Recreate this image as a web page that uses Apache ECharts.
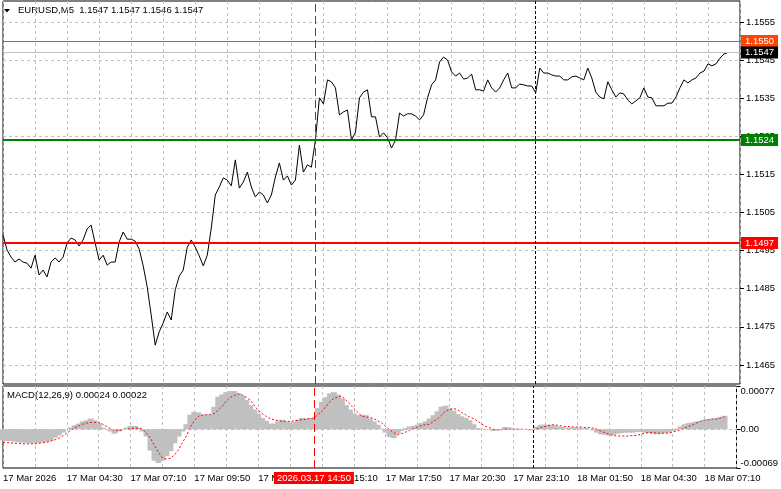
<!DOCTYPE html>
<html><head><meta charset="utf-8">
<script src="https://cdn.jsdelivr.net/npm/echarts@6/dist/echarts.min.js"></script>
<style>html,body{margin:0;padding:0;background:#fff}#c{width:781px;height:489px}</style>
</head><body><div id="c"></div>
<script>
// ---- data ----
const tickLabels = ['17 Mar 2026','17 Mar 04:30','17 Mar 07:10','17 Mar 09:50','17 Mar 12:30','17 Mar 15:10',
  '17 Mar 17:50','17 Mar 20:30','17 Mar 23:10','18 Mar 01:50','18 Mar 04:30','18 Mar 07:10'];
const priceTicks = [1.1465,1.1475,1.1485,1.1495,1.1505,1.1515,1.1525,1.1535,1.1545,1.1555];
const macdTicks = [-0.00069, 0, 0.00077];
const levelValues = [1.1550, 1.1547, 1.1524, 1.1497];
const crossTime = '2026.03.17 14:50';
const daySep = '2026.03.18 00:00';
const titleText = 'EURUSD,M5  1.1547 1.1547 1.1546 1.1547';
const macdText = 'MACD(12,26,9) 0.00024 0.00022';

const price = [
1.14991,1.14952,1.14933,1.14920,1.14928,1.14920,1.14917,1.14904,1.14938,1.14886,
1.14899,1.14881,1.14920,1.14931,1.14920,1.14933,1.14970,1.14983,1.14978,1.14962,
1.14978,1.15007,1.15017,1.14970,1.14925,1.14938,1.14912,1.14920,1.14920,1.14973,
1.14999,1.14980,1.14980,1.14975,1.14954,1.14910,1.14855,1.14781,1.14702,1.14737,
1.14760,1.14789,1.14768,1.14847,1.14883,1.14899,1.14959,1.14978,1.14959,1.14936,
1.14910,1.14938,1.15009,1.15096,1.15117,1.15141,1.15135,1.15120,1.15188,1.15114,
1.15130,1.15156,1.15117,1.15091,1.15104,1.15096,1.15075,1.15096,1.15143,1.15180,
1.15135,1.15146,1.15122,1.15135,1.15227,1.15156,1.15175,1.15169,1.15240,1.15351,
1.15335,1.15398,1.15393,1.15377,1.15306,1.15314,1.15319,1.15240,1.15261,1.15351,
1.15366,1.15372,1.15301,1.15301,1.15248,1.15259,1.15246,1.15219,1.15240,1.15311,
1.15303,1.15309,1.15309,1.15303,1.15293,1.15306,1.15351,1.15385,1.15398,1.15445,
1.15458,1.15450,1.15419,1.15408,1.15416,1.15400,1.15403,1.15413,1.15372,1.15372,
1.15369,1.15398,1.15377,1.15366,1.15377,1.15398,1.15416,1.15377,1.15377,1.15387,
1.15385,1.15382,1.15382,1.15364,1.15429,1.15416,1.15416,1.15411,1.15408,1.15408,
1.15398,1.15398,1.15406,1.15408,1.15403,1.15398,1.15429,1.15403,1.15366,1.15353,
1.15348,1.15393,1.15372,1.15353,1.15364,1.15361,1.15345,1.15335,1.15343,1.15351,
1.15377,1.15353,1.15351,1.15330,1.15330,1.15330,1.15337,1.15337,1.15353,1.15377,
1.15398,1.15390,1.15398,1.15403,1.15416,1.15421,1.15440,1.15435,1.15440,1.15455,
1.15466,1.15470];

const hist = [
-0.00020,-0.00021,-0.00021,-0.00022,-0.00023,-0.00024,-0.00024,-0.00025,-0.00025,-0.00024,
-0.00023,-0.00022,-0.00020,-0.00015,-0.00011,-0.00006,0.00000,0.00003,0.00007,0.00010,
0.00014,0.00016,0.00019,0.00016,0.00011,0.00003,0.00000,-0.00004,-0.00008,-0.00004,
0.00000,0.00003,0.00006,0.00006,0.00003,-0.00004,-0.00013,-0.00038,-0.00056,-0.00060,
-0.00056,-0.00048,-0.00039,-0.00025,-0.00013,-0.00004,0.00009,0.00026,0.00031,0.00030,
0.00026,0.00026,0.00026,0.00040,0.00058,0.00062,0.00066,0.00068,0.00068,0.00064,
0.00060,0.00052,0.00043,0.00035,0.00028,0.00020,0.00015,0.00010,0.00010,0.00014,
0.00017,0.00014,0.00012,0.00013,0.00017,0.00020,0.00019,0.00020,0.00020,0.00038,
0.00049,0.00057,0.00064,0.00066,0.00062,0.00055,0.00043,0.00035,0.00028,0.00025,
0.00026,0.00025,0.00019,0.00014,0.00008,0.00001,-0.00006,-0.00014,-0.00016,-0.00008,
-0.00003,0.00002,0.00005,0.00006,0.00008,0.00011,0.00014,0.00019,0.00025,0.00032,
0.00040,0.00042,0.00037,0.00033,0.00027,0.00023,0.00020,0.00016,0.00009,0.00002,
0.00001,0.00000,-0.00001,-0.00003,-0.00002,0.00001,0.00004,0.00003,0.00001,0.00000,
0.00000,0.00000,0.00000,0.00000,0.00005,0.00008,0.00008,0.00008,0.00007,0.00005,
0.00004,0.00003,0.00003,0.00003,0.00003,0.00002,0.00002,0.00001,-0.00002,-0.00006,
-0.00009,-0.00010,-0.00011,-0.00010,-0.00008,-0.00007,-0.00006,-0.00006,-0.00006,-0.00005,
-0.00005,-0.00006,-0.00007,-0.00008,-0.00009,-0.00008,-0.00007,-0.00006,-0.00003,0.00001,
0.00005,0.00009,0.00011,0.00012,0.00014,0.00015,0.00017,0.00018,0.00019,0.00020,
0.00022,0.00024];

const signal = [
-0.00023,-0.00024,-0.00024,-0.00025,-0.00025,-0.00026,-0.00026,-0.00026,-0.00026,-0.00025,
-0.00024,-0.00023,-0.00021,-0.00019,-0.00016,-0.00012,-0.00007,-0.00002,0.00003,0.00006,
0.00009,0.00011,0.00012,0.00012,0.00012,0.00009,0.00005,0.00001,-0.00002,-0.00002,
-0.00001,0.00000,0.00001,0.00002,0.00002,0.00000,-0.00007,-0.00016,-0.00029,-0.00041,
-0.00051,-0.00053,-0.00052,-0.00046,-0.00037,-0.00024,-0.00012,0.00004,0.00015,0.00023,
0.00025,0.00026,0.00026,0.00028,0.00034,0.00041,0.00050,0.00057,0.00060,0.00063,
0.00061,0.00057,0.00052,0.00043,0.00034,0.00028,0.00023,0.00019,0.00017,0.00015,
0.00014,0.00014,0.00014,0.00015,0.00016,0.00017,0.00018,0.00019,0.00020,0.00026,
0.00032,0.00040,0.00049,0.00055,0.00057,0.00059,0.00052,0.00045,0.00037,0.00030,
0.00023,0.00022,0.00021,0.00019,0.00015,0.00011,0.00005,-0.00001,-0.00006,-0.00010,
-0.00008,-0.00005,-0.00002,0.00001,0.00004,0.00007,0.00008,0.00009,0.00014,0.00018,
0.00025,0.00032,0.00035,0.00037,0.00035,0.00030,0.00026,0.00022,0.00019,0.00015,
0.00010,0.00005,0.00003,0.00000,-0.00001,-0.00001,0.00000,0.00000,0.00000,0.00000,
0.00000,0.00000,-0.00001,-0.00001,0.00001,0.00003,0.00005,0.00007,0.00008,0.00007,
0.00006,0.00005,0.00005,0.00004,0.00004,0.00004,0.00003,0.00003,0.00002,0.00000,
-0.00003,-0.00006,-0.00009,-0.00011,-0.00012,-0.00012,-0.00012,-0.00012,-0.00011,-0.00011,
-0.00009,-0.00007,-0.00006,-0.00006,-0.00007,-0.00007,-0.00007,-0.00007,-0.00005,-0.00003,
-0.00001,0.00002,0.00005,0.00008,0.00011,0.00014,0.00016,0.00017,0.00018,0.00018,
0.00020,0.00022];

// time categories: 10-minute slots from 17 Mar 01:50
const categories = [];
for (let i = 0; i < 185; i++) {
  const m = 110 + 10 * i;
  const d = 17 + Math.floor(m / 1440);
  const mm = m % 1440;
  const hh = String(Math.floor(mm / 60)).padStart(2, '0');
  const mi = String(mm % 60).padStart(2, '0');
  categories.push('2026.03.' + d + ' ' + hh + ':' + mi);
}

// ---- chart ----
const FONT = 'Liberation Sans';
const FS = 9.5;
const grayDash = { color: '#c0c0c0', type: [3, 3], width: 1 };

function boxLabel(bg, v) {
  return { show: true, position: 'end', distance: 1, formatter: v.toFixed(4), color: '#fff',
    backgroundColor: bg, padding: [1, 4, 0, 4], fontSize: FS, lineHeight: 11, fontFamily: FONT };
}
const levelColors = ['#ff4500', '#c0c0c0', '#008000', '#ff0000'];
const levelLabelBg = ['#ff4500', '#000000', '#008000', '#ff0000'];
const levelWidths = [1, 1, 2, 2];

const chart = echarts.init(document.getElementById('c'), null, { renderer: 'canvas' });
chart.setOption({
  animation: false,
  backgroundColor: '#fff',
  textStyle: { fontFamily: FONT },
  graphic: [
    { type: 'polygon', shape: { points: [[4, 9], [10, 9], [7, 12.5]] }, style: { fill: '#000' } },
    { type: 'text', left: 18, top: 5, style: { text: titleText, fontSize: FS, fontFamily: FONT, fill: '#000' } },
    { type: 'text', left: 7, top: 390, style: { text: macdText, fontSize: FS, fontFamily: FONT, fill: '#000' } }
  ],
  grid: [
    { left: 3, top: 1, right: 41, height: 383, show: true, borderColor: '#000', borderWidth: 1 },
    { left: 3, top: 386, right: 41, height: 82, show: true, borderColor: '#000', borderWidth: 1 }
  ],
  xAxis: [
    { type: 'category', gridIndex: 0, data: categories, boundaryGap: false,
      axisLine: { show: false }, axisTick: { show: false }, axisLabel: { show: false },
      splitLine: { show: true, interval: 7, lineStyle: grayDash } },
    { type: 'category', gridIndex: 1, data: categories, boundaryGap: false,
      axisLine: { show: false }, axisTick: { show: false },
      axisLabel: { show: true, interval: 15, align: 'left', margin: 5, fontSize: FS, color: '#000',
        fontFamily: FONT, formatter: (v, i) => tickLabels[Math.round(i / 16)] },
      splitLine: { show: true, interval: 7, lineStyle: grayDash } }
  ],
  yAxis: [
    { type: 'value', gridIndex: 0, position: 'right', min: 1.1460, max: 1.15605, scale: true,
      axisLine: { show: false },
      axisTick: { show: true, length: 4, inside: false, customValues: priceTicks, lineStyle: { color: '#000' } },
      axisLabel: { customValues: priceTicks, margin: 6, fontSize: FS, color: '#000', fontFamily: FONT,
        formatter: v => v.toFixed(4) },
      splitLine: { show: true, lineStyle: grayDash } },
    { type: 'value', gridIndex: 1, position: 'right', min: -0.00069, max: 0.00077,
      axisLine: { show: false },
      axisTick: { show: true, length: 4, customValues: macdTicks, lineStyle: { color: '#000' } },
      axisLabel: { customValues: macdTicks, margin: 4, fontSize: FS, color: '#000', fontFamily: FONT,
        verticalAlignMaxLabel: 'top', verticalAlignMinLabel: 'bottom',
        formatter: v => (Math.abs(v) < 1e-9 ? '0.00' : v.toFixed(5)) },
      splitLine: { show: false } }
  ],
  series: [
    { type: 'line', xAxisIndex: 0, yAxisIndex: 0, data: price, showSymbol: false, symbol: 'none',
      lineStyle: { color: '#000', width: 1 }, z: 3,
      markLine: { silent: true, symbol: ['none', 'none'], animation: false, precision: 6,
        data: levelValues.map((v, k) => ({ yAxis: v,
          lineStyle: { color: levelColors[k], width: levelWidths[k], type: 'solid' },
          label: boxLabel(levelLabelBg[k], v) })).concat([
          { xAxis: crossTime, lineStyle: { color: '#ff0000', width: 1, type: [8, 4] }, label: { show: false } },
          { xAxis: daySep, lineStyle: { color: '#000', width: 1, type: [3, 2] }, label: { show: false } }
        ]) } },
    { type: 'bar', xAxisIndex: 1, yAxisIndex: 1, data: hist, barWidth: 6, barGap: '-100%', barCategoryGap: '0%',
      itemStyle: { color: '#c0c0c0', borderWidth: 0 }, z: 2,
      markLine: { silent: true, symbol: ['none', 'none'], animation: false, precision: 6,
        data: [
          { yAxis: 0, lineStyle: grayDash, label: { show: false } },
          { xAxis: crossTime, lineStyle: { color: '#ff0000', width: 1, type: [8, 4] },
            label: { show: true, position: 'start', distance: 4, formatter: crossTime, color: '#fff',
              backgroundColor: '#ff0000', padding: [1, 3, 0, 3], fontSize: FS, lineHeight: 11, fontFamily: FONT } },
          { xAxis: daySep, lineStyle: { color: '#000', width: 1, type: [3, 2] }, label: { show: false } }
        ] } },
    { type: 'line', xAxisIndex: 1, yAxisIndex: 1, data: signal, showSymbol: false, symbol: 'none',
      lineStyle: { color: '#ff0000', width: 1, type: [2, 2] }, z: 4 }
  ]
});
</script></body></html>
